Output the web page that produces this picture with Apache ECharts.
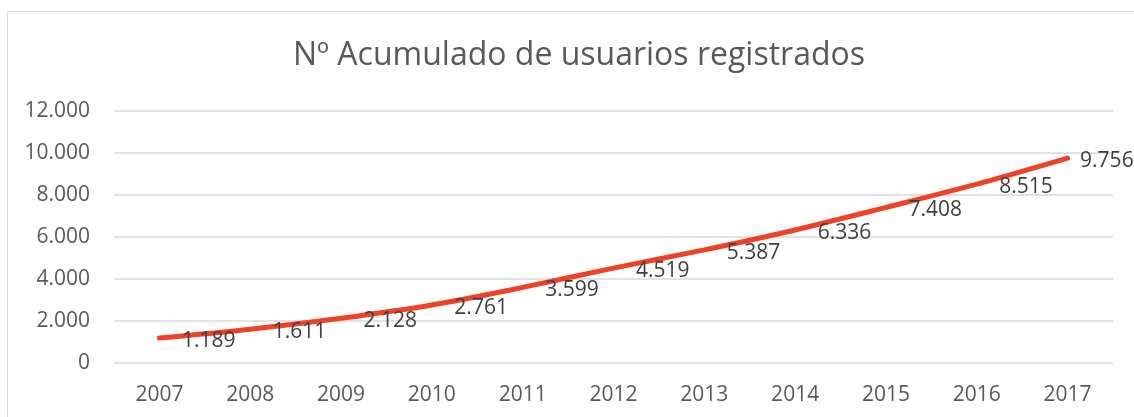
<!DOCTYPE html>
<html>
<head>
<meta charset="utf-8">
<script src="https://cdn.jsdelivr.net/npm/echarts@6/dist/echarts.min.js"></script>
<style>
html,body{margin:0;padding:0;background:#fff;}
#chart{width:1134px;height:417px;}
</style>
</head>
<body>
<div id="chart"></div>
<script>
const titleText = 'Nº Acumulado de usuarios registrados';
const years = ['2007','2008','2009','2010','2011','2012','2013','2014','2015','2016','2017'];
const usuarios = [1189, 1611, 2128, 2761, 3599, 4519, 5387, 6336, 7408, 8515, 9756];
const yTicks = [0, 2000, 4000, 6000, 8000, 10000, 12000];

function fmt(v) {
  return String(v).replace(/\B(?=(\d{3})+(?!\d))/g, '.');
}

const chart = echarts.init(document.getElementById('chart'), null, {renderer: 'canvas'});
const FONT = '"Open Sans", sans-serif';
const lastIdx = usuarios.length - 1;

chart.setOption({
  animation: false,
  backgroundColor: '#ffffff',
  graphic: [{
    type: 'rect',
    shape: {x: 7.5, y: 11.5, width: 1200, height: 500},
    style: {fill: 'none', stroke: '#d9d9d9', lineWidth: 1},
    silent: true,
    z: -10
  }],
  title: {
    text: titleText,
    left: 574,
    textAlign: 'center',
    top: 35,
    textStyle: {fontFamily: FONT, fontSize: 32, fontWeight: 'normal', color: '#595959'}
  },
  grid: {left: 114, right: 21, top: 111, bottom: 54, containLabel: false},
  xAxis: {
    type: 'category',
    data: years,
    boundaryGap: true,
    axisLine: {show: false},
    axisTick: {show: false},
    axisLabel: {fontFamily: FONT, fontSize: 21, color: '#595959', margin: 22},
    splitLine: {show: false}
  },
  yAxis: {
    type: 'value',
    min: yTicks[0],
    max: yTicks[yTicks.length - 1],
    interval: yTicks[1] - yTicks[0],
    axisLine: {show: false},
    axisTick: {show: false},
    axisLabel: {fontFamily: FONT, fontSize: 21, color: '#595959', margin: 24, formatter: v => fmt(v)},
    splitLine: {lineStyle: {color: '#d9d9d9', width: 1.5}}
  },
  series: [{
    type: 'line',
    data: usuarios.map((v, i) => i === lastIdx ? {value: v, label: {distance: 12}} : v),
    smooth: 0.3,
    symbol: 'circle',
    symbolSize: 1,
    showSymbol: true,
    itemStyle: {color: 'rgba(0,0,0,0)'},
    lineStyle: {color: '#ee4127', width: 5, cap: 'round'},
    label: {
      show: true,
      position: 'right',
      distance: 22,
      offset: [0, 3],
      fontFamily: FONT,
      fontSize: 21,
      color: '#404040',
      formatter: p => fmt(p.value)
    },
    z: 3
  }]
});
</script>
</body>
</html>
